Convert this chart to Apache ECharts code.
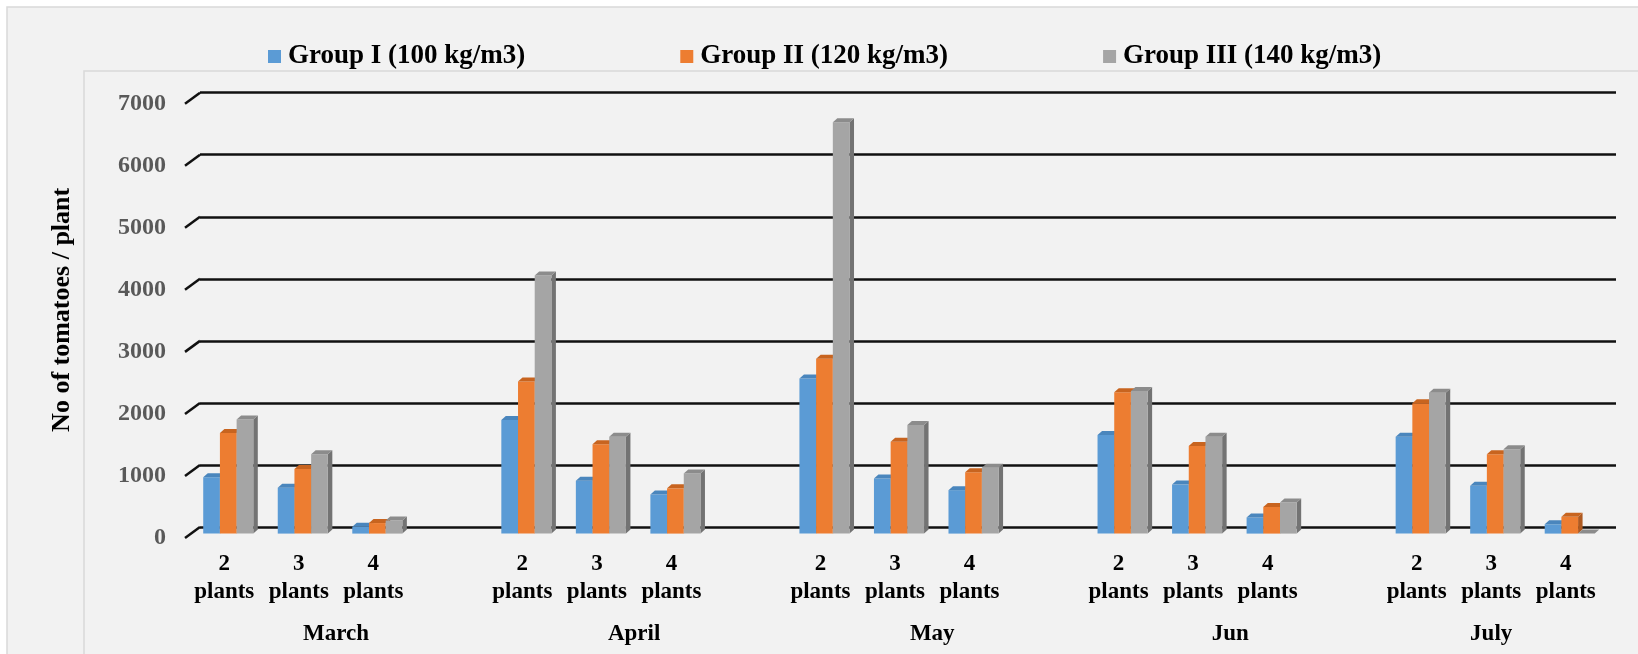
<!DOCTYPE html>
<html>
<head>
<meta charset="utf-8">
<script src="https://cdn.jsdelivr.net/npm/echarts@6.0.0/dist/echarts.min.js"></script>
<style>
html,body{margin:0;padding:0;background:#fff;}
#chart{width:1638px;height:654px;}
</style>
</head>
<body>
<div id="chart"></div>
<script>
// 数据
var months = ['March', 'April', 'May', 'Jun', 'July'];
var plantLabels = ['2\nplants', '3\nplants', '4\nplants'];
var groupNames = ['Group I (100 kg/m3)', 'Group II (120 kg/m3)', 'Group III (140 kg/m3)'];
// 每组按 month x (2,3,4 plants) 排列
var group1 = [910, 740, 110, 1830, 850, 630, 2500, 890, 700, 1590, 790, 260, 1560, 770, 150];
var group2 = [1620, 1040, 170, 2450, 1440, 730, 2820, 1480, 990, 2280, 1410, 430, 2100, 1280, 270];
var group3 = [1840, 1280, 210, 4160, 1560, 970, 6630, 1750, 1060, 2300, 1560, 500, 2270, 1360, 0];
var yTicks = [0, 1000, 2000, 3000, 4000, 5000, 6000, 7000];

var FONT = "'Liberation Serif', 'Times New Roman', serif";
var colors = [
	{front: '#5b9bd5', top: '#4a86bd', side: '#41719c'},
	{front: '#ed7d31', top: '#c8641f', side: '#ae5a21'},
	{front: '#a5a5a5', top: '#8c8c8c', side: '#737373'}
];
// 伪3D参数
var FRONT_DX = -9, FRONT_DY = 6.6;   //柱子正面相对后墙的偏移
var DEPTH_X = 4.5, DEPTH_Y = 4;      //柱子厚度
var BAR_RATIO = 0.224;               //单柱宽度/类目宽度
var WALL_DX = -15, WALL_DY = 11;     //网格线左侧斜线

// 类目: 每个月3个, 月与月之间空一格
var slotLabels = [];
for (var m = 0; m < months.length; m++) {
	for (var p = 0; p < plantLabels.length; p++) {
		slotLabels.push(plantLabels[p]);
	}
	if (m < months.length - 1) slotLabels.push('');
}
// 月份标签放在半格刻度上(boundaryGap:false), 居中于该月所占的格子
var monthRow = [];
for (var i = 0; i <= slotLabels.length * 2; i++) monthRow.push('');
for (var m2 = 0; m2 < months.length; m2++) {
	var start = m2 * 4;
	var end = m2 < months.length - 1 ? start + 4 : start + 3;
	monthRow[start + end] = months[m2];
}

function toSlots(values) {
	var data = [];
	for (var j = 0; j < values.length; j++) {
		data.push([Math.floor(j / 3) * 4 + j % 3, values[j]]);
	}
	return data;
}

function bar3d(k) {
	var c = colors[k];
	return function (params, api) {
		var slot = api.value(0), v = api.value(1);
		var base = api.coord([slot, 0]);
		var top = api.coord([slot, v]);
		var bw = api.size([1, 0])[0] * BAR_RATIO;
		var x = base[0] + FRONT_DX + (k - 1.5) * bw;
		var yB = base[1] + FRONT_DY, yT = top[1] + FRONT_DY;
		return {
			type: 'group',
			children: [
				{type: 'polygon', shape: {points: [[x + bw, yB], [x + bw, yT], [x + bw + DEPTH_X, yT - DEPTH_Y], [x + bw + DEPTH_X, yB - DEPTH_Y]]}, style: {fill: c.side}},
				{type: 'rect', shape: {x: x, y: yT, width: bw, height: yB - yT}, style: {fill: c.front}},
				{type: 'polygon', shape: {points: [[x, yT], [x + bw, yT], [x + bw + DEPTH_X, yT - DEPTH_Y], [x + DEPTH_X, yT - DEPTH_Y]]}, style: {fill: c.top}}
			]
		};
	};
}

var groups = [group1, group2, group3];
var series = [];
for (var g = 0; g < groups.length; g++) {
	series.push({
		name: groupNames[g],
		type: 'custom',
		xAxisIndex: 0,
		yAxisIndex: 0,
		itemStyle: {color: colors[g].front},
		renderItem: bar3d(g),
		data: toSlots(groups[g]),
		z: 3
	});
}
// 网格线左端的斜线
series.push({
	type: 'custom',
	xAxisIndex: 0,
	yAxisIndex: 0,
	silent: true,
	renderItem: function (params, api) {
		var y = api.coord([0, api.value(1)])[1];
		var x0 = params.coordSys.x;
		return {type: 'line', shape: {x1: x0, y1: y, x2: x0 + WALL_DX, y2: y + WALL_DY}, style: {stroke: '#111', lineWidth: 2.5}};
	},
	data: yTicks.map(function (v) { return [0, v]; }),
	z: 2
});

var option = {
	backgroundColor: '#fff',
	animation: false,
	graphic: [
		{type: 'rect', z: -10, shape: {x: 7, y: 7, width: 1700, height: 700}, style: {fill: '#f2f2f2', stroke: '#d9d9d9', lineWidth: 1.5}},
		{type: 'rect', z: -9, shape: {x: 84, y: 71, width: 1700, height: 700}, style: {fill: 'none', stroke: '#d9d9d9', lineWidth: 1.5}}
	],
	legend: {
		left: 263,
		top: 38,
		itemWidth: 13,
		itemHeight: 13,
		itemGap: 155,
		icon: 'rect',
		data: groupNames,
		textStyle: {fontFamily: FONT, fontWeight: 'bold', fontSize: 27, color: '#000', padding: [0, 0, 0, 2]}
	},
	grid: [
		//后墙
		{left: 200, top: 92.7, width: 1416, height: 434.3},
		//前平面, 放标签
		{left: 187, top: 103.7, width: 1416, height: 434.3}
	],
	xAxis: [
		{type: 'category', gridIndex: 0, data: slotLabels, show: false},
		{
			type: 'category', gridIndex: 1, data: slotLabels,
			axisLine: {show: false}, axisTick: {show: false},
			axisLabel: {interval: 0, margin: 12, fontFamily: FONT, fontWeight: 'bold', fontSize: 23, lineHeight: 28, color: '#000'}
		},
		{
			type: 'category', gridIndex: 1, data: monthRow, boundaryGap: false, position: 'bottom',
			axisLine: {show: false}, axisTick: {show: false},
			axisLabel: {interval: 0, margin: 82, fontFamily: FONT, fontWeight: 'bold', fontSize: 23, lineHeight: 28, color: '#000'}
		}
	],
	yAxis: [
		{
			type: 'value', gridIndex: 0, min: 0, max: 7000, interval: 1000,
			axisLine: {show: false}, axisTick: {show: false}, axisLabel: {show: false},
			splitLine: {lineStyle: {color: '#111', width: 2.5}},
			name: 'No of tomatoes / plant', nameLocation: 'middle', nameGap: 125,
			nameTextStyle: {fontFamily: FONT, fontWeight: 'bold', fontSize: 26, color: '#000'}
		},
		{
			type: 'value', gridIndex: 1, min: 0, max: 7000, interval: 1000,
			axisLine: {show: false}, axisTick: {show: false}, splitLine: {show: false},
			axisLabel: {
				margin: 21, fontFamily: FONT, fontWeight: 'bold', fontSize: 24, color: '#595959',
				formatter: function (v) { return String(v); }//不要千分位
			}
		}
	],
	series: series
};

var myChart = echarts.init(document.getElementById('chart'));
myChart.setOption(option);
</script>
</body>
</html>
